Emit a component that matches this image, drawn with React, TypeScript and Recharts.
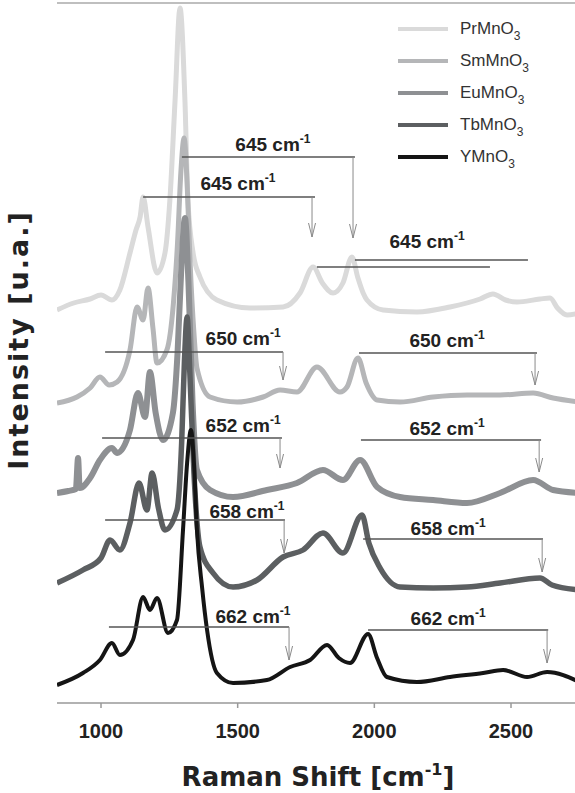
import { LineChart, Line, XAxis, YAxis, ReferenceLine, ReferenceDot, Legend } from "recharts";

// Raman shift [cm-1] vs intensity (offset, arbitrary units)
const prMnO3 = [
  [839, 393], [900, 400], [960, 404], [1000, 408], [1040, 403], [1069, 413], [1106, 450],
  [1128, 473], [1143, 486], [1154, 506], [1172, 476], [1205, 430], [1234, 450], [1252, 503],
  [1271, 603], [1289, 695], [1307, 603], [1318, 503], [1337, 450], [1362, 426], [1424, 403],
  [1545, 395], [1666, 396], [1728, 410], [1776, 436], [1810, 420], [1849, 410], [1885, 420],
  [1918, 446], [1940, 425], [1959, 410], [1973, 403], [2032, 393], [2156, 391], [2277, 396],
  [2387, 404], [2434, 409], [2480, 403], [2522, 401], [2606, 404], [2643, 405], [2670, 395],
  [2705, 388], [2750, 390],
];
const smMnO3 = [
  [839, 300], [912, 306], [960, 315], [996, 326], [1030, 318], [1059, 321], [1106, 353],
  [1132, 396], [1154, 383], [1172, 415], [1190, 375], [1205, 340], [1241, 353], [1265, 400],
  [1280, 460], [1292, 530], [1304, 565], [1315, 520], [1326, 440], [1340, 370], [1351, 335],
  [1399, 306], [1498, 301], [1593, 306], [1655, 313], [1717, 311], [1790, 336], [1874, 311],
  [1900, 316], [1940, 345], [1970, 320], [2010, 303], [2094, 301], [2215, 306], [2339, 308],
  [2460, 308], [2581, 310], [2654, 305], [2750, 301],
];
const euMnO3 = [
  [839, 210], [880, 212], [908, 214], [916, 245], [922, 215], [960, 225], [996, 243],
  [1040, 255], [1059, 250], [1106, 273], [1135, 310], [1161, 286], [1179, 331], [1200, 290],
  [1227, 263], [1263, 290], [1280, 350], [1293, 430], [1307, 485], [1320, 420], [1335, 300],
  [1351, 233], [1399, 213], [1483, 206], [1607, 213], [1717, 220], [1812, 233], [1885, 223],
  [1948, 243], [2010, 216], [2094, 206], [2215, 203], [2339, 200], [2460, 210], [2581, 223],
  [2654, 213], [2750, 210],
];
const tbMnO3 = [
  [839, 120], [934, 133], [1000, 145], [1033, 163], [1069, 153], [1106, 180], [1139, 220],
  [1168, 193], [1187, 230], [1210, 195], [1234, 173], [1278, 193], [1295, 260], [1305, 340],
  [1315, 386], [1325, 330], [1340, 230], [1362, 156], [1410, 130], [1483, 116], [1571, 123],
  [1666, 146], [1739, 153], [1812, 170], [1885, 150], [1955, 188], [1980, 160], [2021, 135],
  [2094, 116], [2215, 115], [2339, 116], [2460, 120], [2606, 125], [2650, 118], [2750, 113],
];
const yMnO3 = [
  [839, 18], [934, 30], [996, 43], [1040, 60], [1069, 48], [1117, 63], [1154, 106],
  [1179, 93], [1205, 105], [1245, 70], [1278, 83], [1300, 173], [1315, 240], [1329, 273],
  [1340, 240], [1351, 173], [1370, 115], [1388, 73], [1424, 30], [1483, 20], [1607, 23],
  [1692, 36], [1765, 43], [1827, 58], [1870, 45], [1911, 40], [1977, 69], [2010, 45],
  [2046, 26], [2156, 21], [2277, 26], [2398, 30], [2471, 33], [2559, 26], [2632, 31],
  [2750, 21],
];

const names = ["PrMnO3", "SmMnO3", "EuMnO3", "TbMnO3", "YMnO3"];
const spectra = [prMnO3, smMnO3, euMnO3, tbMnO3, yMnO3];
const colors = ["#dadada", "#b5b6b8", "#8e9093", "#5c5f61", "#151515"];
const widths = [5, 5, 6, 5.5, 4];
const xTicks = [1000, 1500, 2000, 2500];

// mode separations: bracket lines [x1, x2, y], arrows [x, y, yTip], labels [text, x, y]
const bracketLines = [
  [1296, 1929, 546], [1154, 1783, 506], [1929, 2562, 443], [1790, 2423, 436],
  [1015, 1666, 351], [1944, 2595, 350], [1004, 1662, 265], [1951, 2610, 263],
  [1015, 1673, 183], [1959, 2617, 164], [1029, 1688, 76], [1977, 2636, 73],
];
const arrows = [
  [1922, 546, 465], [1772, 506, 466], [1666, 351, 323], [2588, 350, 318],
  [1655, 265, 235], [2603, 263, 231], [1670, 183, 150], [2614, 164, 131],
  [1688, 76, 43], [2632, 73, 40],
];
const modeLabels = [
  ["645", 1629, 552], ["645", 1501, 513], ["645", 2193, 455],
  ["650", 1520, 358], ["650", 2266, 356], ["652", 1520, 271], ["652", 2266, 268],
  ["658", 1534, 185], ["658", 2270, 168], ["662", 1556, 80], ["662", 2270, 78],
];

const sans = "'Liberation Sans', Arial, sans-serif";
const titleFont = "'DejaVu Sans', Verdana, sans-serif";

function ArrowShape(props: any) {
  const { x1, y1, x2, y2 } = props;
  return (
    <path
      d={`M${x1},${y1}L${x2},${y2}M${x2 - 3.5},${y2 - 14}L${x2},${y2}L${x2 + 3.5},${y2 - 14}`}
      stroke="#8a8a8a"
      strokeWidth={1}
      fill="none"
    />
  );
}

function renderLegend(props: any) {
  const items = [...props.payload].sort((a: any, b: any) => names.indexOf(a.value) - names.indexOf(b.value));
  return (
    <div style={{ fontFamily: sans, fontSize: 17, color: "#333" }}>
      {items.map((entry: any) => (
        <div key={entry.value} style={{ display: "flex", alignItems: "center", height: 32 }}>
          <span style={{ display: "inline-block", width: 50, height: 4, background: entry.color, marginRight: 12 }} />
          <span>
            {entry.value.slice(0, -1)}
            <span style={{ fontSize: 12, position: "relative", top: 6 }}>3</span>
          </span>
        </div>
      ))}
    </div>
  );
}

export default function App() {
  return (
    <div
      style={{
        position: "absolute",
        left: 0,
        top: 0,
        width: 575,
        height: 793,
        overflow: "hidden",
        background: "#fff",
      }}
    >
      <LineChart width={590} height={793} margin={{ top: 3, right: 0, left: 57, bottom: 0 }}>
        <XAxis
          type="number"
          dataKey="x"
          domain={[839, 2789]}
          ticks={xTicks}
          allowDataOverflow
          height={90}
          tickSize={5}
          tickMargin={16}
          stroke="#999"
          strokeWidth={1.5}
          tick={{ fontSize: 20, fontWeight: "bold", fill: "#222", fontFamily: sans }}
        />
        <YAxis type="number" domain={[0, 700]} width={0} tick={false} tickLine={false} stroke="#aaa" strokeWidth={1.5} />
        <ReferenceLine y={700} stroke="#aaa" strokeWidth={1.5} />
        {spectra.map((s, i) => (
          <Line
            key={names[i]}
            data={s.map(([x, y]) => ({ x, y }))}
            dataKey="y"
            name={names[i]}
            type="monotone"
            stroke={colors[i]}
            strokeWidth={widths[i]}
            dot={false}
            activeDot={false}
            isAnimationActive={false}
          />
        ))}
        {bracketLines.map(([x1, x2, y], i) => (
          <ReferenceLine
            key={"b" + i}
            segment={[{ x: x1, y }, { x: x2, y }]}
            stroke="#555"
            strokeWidth={1.5}
          />
        ))}
        {arrows.map(([x, y, yTip], i) => (
          <ReferenceLine
            key={"a" + i}
            segment={[{ x, y }, { x, y: yTip }]}
            shape={ArrowShape}
          />
        ))}
        {modeLabels.map(([t, x, y], i) => (
          <ReferenceDot
            key={"l" + i}
            x={x as number}
            y={y as number}
            r={0}
            shape={(p: any) => (
              <text x={p.cx} y={p.cy} textAnchor="middle" fontFamily={sans} fontWeight="bold" fontSize={19} fill="#222">
                {t} cm<tspan dy={-8} fontSize={12}>-1</tspan>
              </text>
            )}
          />
        ))}
        <Legend
          layout="vertical"
          align="center"
          verticalAlign="middle"
          content={renderLegend}
          wrapperStyle={{ left: 398, top: 13, width: 177 }}
        />
      </LineChart>
      <svg width={575} height={793} style={{ position: "absolute", left: 0, top: 0, pointerEvents: "none" }}>
        <text x={318} y={786} textAnchor="middle" fontFamily={titleFont} fontWeight="bold" fontSize={26} fill="#222">
          Raman Shift [cm<tspan dy={-11} fontSize={16}>-1</tspan>
          <tspan dy={11}>]</tspan>
        </text>
        <text
          transform="translate(28, 340) rotate(-90)"
          textAnchor="middle"
          fontFamily={titleFont}
          fontWeight="bold"
          fontSize={27}
          letterSpacing={2}
          fill="#222"
        >
          Intensity [u.a.]
        </text>
      </svg>
    </div>
  );
}
